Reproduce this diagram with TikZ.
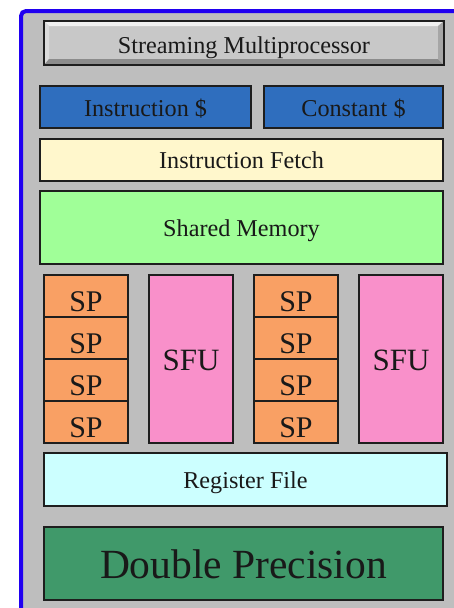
\documentclass[tikz,border=0pt]{standalone}
\usepackage{fontspec}
\setmainfont{Liberation Serif}
\definecolor{panelgray}{HTML}{BEBEBE}
\definecolor{panelblue}{HTML}{2000F0}
\definecolor{btngray}{HTML}{C8C8C8}
\definecolor{cacheblue}{HTML}{2F6EBE}
\definecolor{fetchyellow}{HTML}{FFF7CC}
\definecolor{shmemgreen}{HTML}{A0FF98}
\definecolor{sporange}{HTML}{F9A064}
\definecolor{sfupink}{HTML}{F990CA}
\definecolor{regcyan}{HTML}{CCFFFF}
\definecolor{dpgreen}{HTML}{40996A}
\definecolor{edge}{HTML}{1E1E1E}
\tikzset{
  % font size #1 (pt); caps centred in the box, lowered by #2 (pt)
  capfont/.style 2 args={font=\fontsize{#1}{#1}\selectfont,
    text height={0.655*#1pt+2*#2pt}, text depth=0pt},
  unitbox/.style={draw=edge, line width=1.5pt, inner sep=0pt, outer sep=0pt,
    text=black!90, capfont={24.2}{1.5}},
  spcell/.style={unitbox, fill=sporange, minimum width=84pt, minimum height=42pt,
    capfont={30}{5.5}},
  sfucell/.style={unitbox, fill=sfupink, minimum width=84pt, minimum height=168pt,
    capfont={31}{1}},
}
\begin{document}
\begin{tikzpicture}[x=1pt, y=-1pt]
\useasboundingbox (0,0) rectangle (454,608);
\clip (0,0) rectangle (454,608);
% SM panel
\draw[panelblue, line width=4pt, fill=panelgray, rounded corners=5pt] (21,11) rectangle (480,640);

% title button with bevel
\node[unitbox, fill=btngray, minimum width=400pt, minimum height=44pt, line width=2pt] (sm) at (244,43) {};
\fill[white!94!black] (sm.north west) -- (sm.north east) -- ([shift={(-5,5)}]sm.north east) -- ([shift={(5,5)}]sm.north west) -- cycle;
\fill[white!86!black] (sm.north west) -- ([shift={(5,5)}]sm.north west) -- ([shift={(5,-6)}]sm.south west) -- (sm.south west) -- cycle;
\fill[black!45] (sm.south west) -- ([shift={(5,-6)}]sm.south west) -- ([shift={(-6,-6)}]sm.south east) -- (sm.south east) -- cycle;
\fill[black!35] (sm.north east) -- (sm.south east) -- ([shift={(-6,-6)}]sm.south east) -- ([shift={(-6,5)}]sm.north east) -- cycle;
\draw[edge, line width=2pt] (sm.north west) rectangle (sm.south east);
\node[text=black!90, inner sep=0pt, capfont={24.2}{2.8}] (smlabel) at (sm.center) {Streaming Multiprocessor};

% caches and fetch
\node[unitbox, fill=cacheblue, minimum width=211pt, minimum height=42pt] (icache) at (145.5,107) {Instruction \$};
\node[unitbox, fill=cacheblue, minimum width=179pt, minimum height=42pt] (ccache) at (353.5,107) {Constant \$};
\node[unitbox, fill=fetchyellow, minimum width=403pt, minimum height=42pt, capfont={24.2}{1}] (fetch) at (241.5,160) {Instruction Fetch};
\node[unitbox, fill=shmemgreen, minimum width=403pt, minimum height=73pt] (shmem) at (241.5,227.5) {Shared Memory};

% execution units
\foreach \y [count=\i] in {296,338,380,422} {
  \node[spcell] (spa\i) at (86,\y) {SP};
  \node[spcell] (spb\i) at (296,\y) {SP};
}
\node[sfucell] (sfua) at (191,359) {SFU};
\node[sfucell] (sfub) at (401,359) {SFU};

% register file and double precision unit
\node[unitbox, fill=regcyan, minimum width=403pt, minimum height=53pt] (regfile) at (245.5,479.5) {Register File};
\node[unitbox, fill=dpgreen, minimum width=399pt, minimum height=73pt, capfont={41.5}{1.5}] (dp) at (243.5,563.5) {Double Precision};
\end{tikzpicture}
\end{document}
